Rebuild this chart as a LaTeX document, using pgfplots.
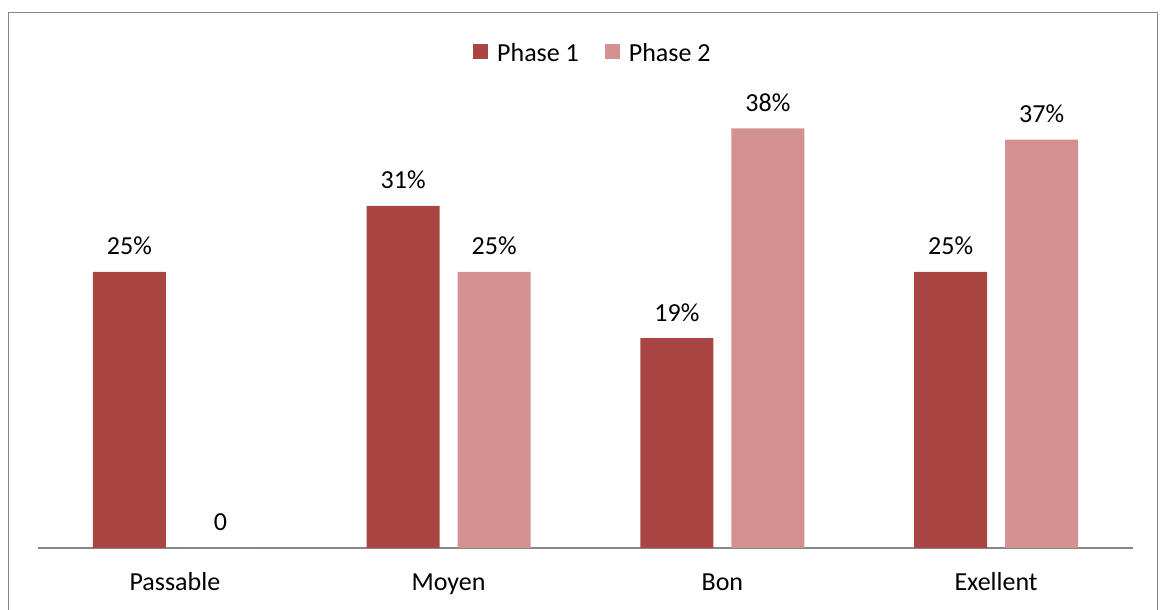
\documentclass[border=0pt]{standalone}
\usepackage{pgfplots}
\pgfplotsset{compat=1.18}
\usepackage{fontspec}
\setmainfont{Carlito}
\definecolor{p1}{HTML}{A94644}
\definecolor{p2}{HTML}{D39190}
\definecolor{framegray}{HTML}{878787}
\begin{document}
\begin{tikzpicture}[font=\fontsize{26}{31}\selectfont]
\begin{axis}[
  at={(0pt,0pt)}, anchor=south west,
  scale only axis, width=1095pt, height=441.6pt,
  xmin=-0.5, xmax=3.5, ymin=0, ymax=40,
  clip=false,
  axis x line=bottom, axis y line=none,
  x axis line style={-, draw=framegray, line width=1.5pt},
  xtick={0,1,2,3},
  xticklabels={Passable, Moyen, Bon, Exellent},
  major tick length=0pt,
  xticklabel style={anchor=base, yshift=-43pt, font=\fontsize{26}{31}\selectfont},
  ytick=\empty,
  ybar=18pt, bar width=73pt,
  point meta=explicit symbolic,
  nodes near coords,
  nodes near coords style={anchor=base, yshift=17pt, font=\fontsize{26}{31}\selectfont, text=black},
  legend columns=2,
  legend style={at={(0.3945,1.1194)}, anchor=west, draw=none, fill=none,
    font=\fontsize{26}{31}\selectfont,
    /tikz/every odd column/.append style={column sep=7pt},
    /tikz/every even column/.append style={column sep=24pt}},
  legend image code/.code={\path[#1, draw=none] (0pt,-5pt) rectangle (15pt,9.7pt);},
]
\addplot[fill=p1, draw=none] coordinates {(0,25) [25\%] (1,31) [31\%] (2,19) [19\%] (3,25) [25\%]};
\addplot[fill=p2, draw=none] coordinates {(0,0) [0] (1,25) [25\%] (2,38) [38\%] (3,37) [37\%]};
\legend{Phase 1, Phase 2}
\end{axis}
\draw[framegray, line width=1.3pt] (-29.5pt,-90pt) rectangle (1119.5pt,535.5pt);
\pgfresetboundingbox
\path[use as bounding box] (-38pt,-62pt) rectangle (1124pt,548pt);
\end{tikzpicture}
\end{document}
